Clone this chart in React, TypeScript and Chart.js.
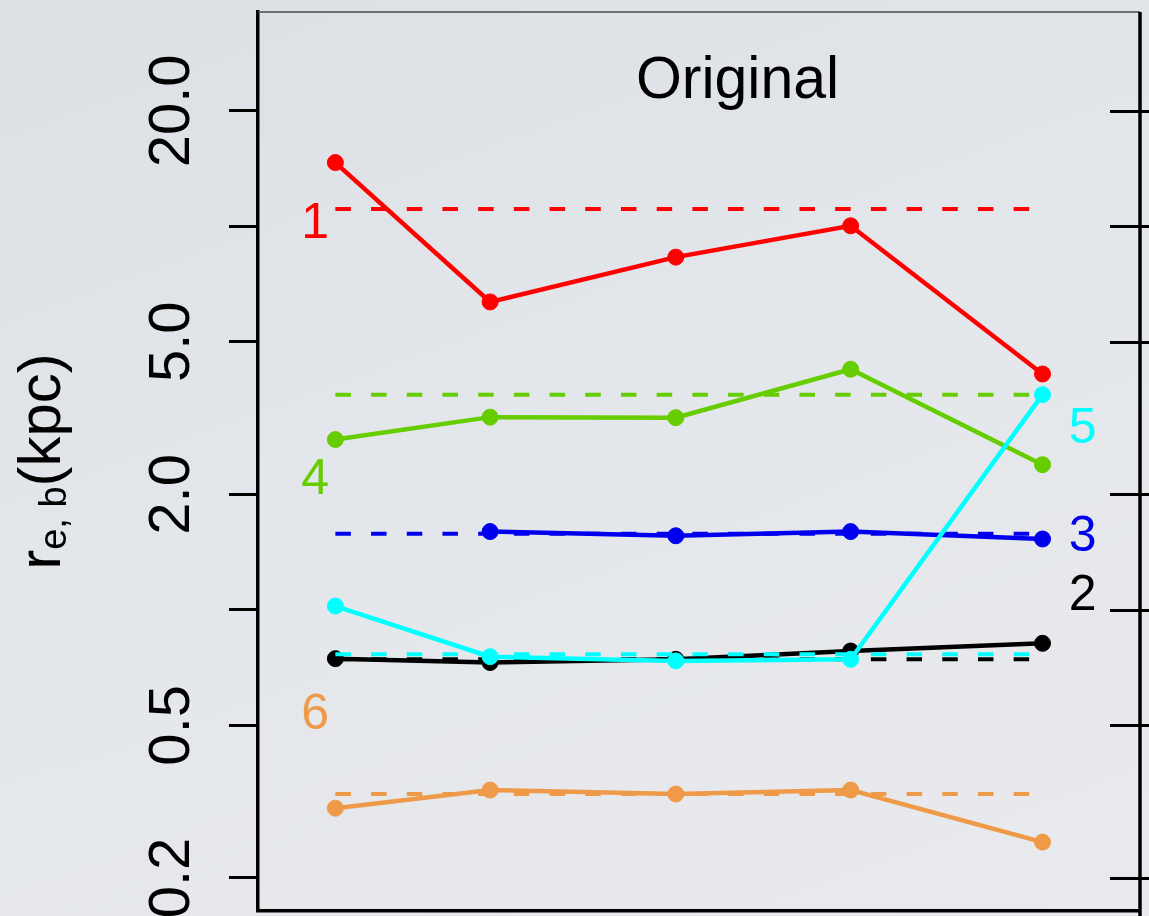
import React, { useEffect, useRef } from 'react';
import { Chart, registerables } from 'chart.js';

Chart.register(...registerables);

// Positions of the five fits along the horizontal axis
const modelX = [0.5, 1.5, 2.7, 3.83, 5.07];

// Measured bulge effective radius r_e,b (kpc) for each galaxy
const seriesNames = ['1', '2', '3', '4', '5', '6'];
const seriesColors = ['#ff0000', '#000000', '#0000ee', '#66cd00', '#00ffff', '#ee9a49'];
const radius1 = [14.66, 6.35, 8.31, 10.03, 4.12];
const radius2 = [0.746, 0.729, 0.743, 0.781, 0.818];
const radius3 = [null, 1.6, 1.56, 1.6, 1.53];
const radius4 = [2.78, 3.18, 3.17, 4.24, 2.39];
const radius5 = [1.023, 0.755, 0.736, 0.743, 3.64];
const radius6 = [0.304, 0.339, 0.331, 0.339, 0.248];
const seriesValues = [radius1, radius2, radius3, radius4, radius5, radius6];

// Reference (input) radius of each galaxy, drawn dashed
const trueRadius = [11.1, 0.743, 1.58, 3.64, 0.766, 0.331];

// Log axis ticks; R drops the labels that would overlap
const yTickValues = [0.2, 0.5, 1, 2, 5, 10, 20];
const yTickLabels = ['0.2', '0.5', '', '2.0', '5.0', '', '20.0'];
const yMin = 0.164;
const yMax = 36.2;
const xMin = 0;
const xMax = 5.7;

// Where each galaxy number is written (data units, text baseline)
const tagX = [0.37, 5.33, 5.33, 0.37, 5.33, 0.37];
const tagY = [9.34, 0.997, 1.424, 2.0, 2.72, 0.49];

const FONT = '"Liberation Sans", Arial, Helvetica, sans-serif';

const panelDecorations = {
  id: 'panelDecorations',
  afterDraw(chart: any) {
    const { ctx, chartArea: a, scales } = chart;
    const ys = scales.y;
    const xs = scales.x;
    ctx.save();

    // thin top frame
    ctx.strokeStyle = '#4a4a4a';
    ctx.lineWidth = 1.5;
    ctx.beginPath();
    ctx.moveTo(a.left, a.top);
    ctx.lineTo(a.right, a.top);
    ctx.stroke();

    // right frame with crossing ticks
    ctx.strokeStyle = '#000';
    ctx.lineWidth = 3.5;
    ctx.beginPath();
    ctx.moveTo(a.right, a.top);
    ctx.lineTo(a.right, chart.height);
    ctx.stroke();
    ctx.lineWidth = 3;
    ctx.beginPath();
    for (const v of yTickValues) {
      const py = Math.round(ys.getPixelForValue(v)) + 0.5;
      ctx.moveTo(a.right - 30, py);
      ctx.lineTo(a.right + 12, py);
    }
    ctx.stroke();

    // panel title
    ctx.fillStyle = '#000';
    ctx.font = `59px ${FONT}`;
    ctx.textAlign = 'center';
    ctx.textBaseline = 'alphabetic';
    ctx.fillText('Original', a.left + (a.right - a.left) * 0.5437, 98);

    // y-axis title r_{e, b}(kpc), rotated
    ctx.save();
    ctx.translate(60, (a.top + a.bottom) / 2);
    ctx.rotate(-Math.PI / 2);
    ctx.textAlign = 'left';
    const mainFont = `60px ${FONT}`;
    const subFont = `38px ${FONT}`;
    ctx.font = mainFont;
    const wr = ctx.measureText('r').width;
    const wk = ctx.measureText('(kpc)').width;
    ctx.font = subFont;
    const ws = ctx.measureText('e, b').width;
    let cx = -(wr + ws + wk) / 2;
    ctx.font = mainFont;
    ctx.fillText('r', cx, 0);
    cx += wr;
    ctx.font = subFont;
    ctx.fillText('e, b', cx, 6);
    cx += ws;
    ctx.font = mainFont;
    ctx.fillText('(kpc)', cx, 0);
    ctx.restore();

    // galaxy numbers
    ctx.font = `50px ${FONT}`;
    ctx.textAlign = 'center';
    ctx.textBaseline = 'alphabetic';
    seriesNames.forEach((name, i) => {
      ctx.fillStyle = seriesColors[i];
      ctx.fillText(name, xs.getPixelForValue(tagX[i]), ys.getPixelForValue(tagY[i]));
    });

    ctx.restore();
  },
};

export default function App() {
  const canvasRef = useRef<HTMLCanvasElement | null>(null);

  useEffect(() => {
    const canvas = canvasRef.current;
    if (!canvas) return;

    const datasets: any[] = [];
    seriesValues.forEach((vals, i) => {
      datasets.push({
        label: `ref ${seriesNames[i]}`,
        data: [
          { x: modelX[0], y: trueRadius[i] },
          { x: modelX[modelX.length - 1], y: trueRadius[i] },
        ],
        borderColor: seriesColors[i],
        borderWidth: 4,
        borderDash: [15.5, 20.2],
        borderCapStyle: 'butt',
        pointRadius: 0,
        fill: false,
        order: 100 - 2 * i,
      });
      datasets.push({
        label: seriesNames[i],
        data: modelX.map((x, j) => ({ x, y: vals[j] })),
        borderColor: seriesColors[i],
        backgroundColor: seriesColors[i],
        borderWidth: 4.5,
        pointRadius: 8,
        pointBorderWidth: 1,
        pointBorderColor: seriesColors[i],
        pointBackgroundColor: seriesColors[i],
        spanGaps: false,
        fill: false,
        order: 99 - 2 * i,
      });
    });

    const chart = new Chart(canvas, {
      type: 'line',
      data: { datasets },
      options: {
        animation: false,
        responsive: false,
        maintainAspectRatio: false,
        layout: { padding: { left: 0, top: 12, right: 9, bottom: 0 } },
        plugins: {
          legend: { display: false },
          tooltip: { enabled: false },
          title: { display: false },
        },
        scales: {
          x: {
            type: 'linear',
            min: xMin,
            max: xMax,
            ticks: { display: false, padding: 0 },
            grid: { display: false, drawTicks: false, tickLength: 0 },
            border: { display: true, color: '#000', width: 3.5 },
            afterFit: (s: any) => {
              s.height = 4;
              s.paddingLeft = 0;
              s.paddingRight = 0;
            },
          },
          y: {
            type: 'logarithmic',
            min: yMin,
            max: yMax,
            afterBuildTicks: (s: any) => {
              s.ticks = yTickValues.map((v) => ({ value: v }));
            },
            afterFit: (s: any) => {
              s.width = 258;
              s.paddingTop = 0;
              s.paddingBottom = 0;
            },
            ticks: {
              autoSkip: false,
              minRotation: 90,
              maxRotation: 90,
              crossAlign: 'center',
              padding: 0,
              color: '#000',
              font: { family: FONT, size: 58 },
              callback: (v: any) => {
                const idx = yTickValues.indexOf(Number(v));
                return idx >= 0 ? yTickLabels[idx] : '';
              },
            },
            grid: {
              drawOnChartArea: false,
              drawTicks: true,
              tickLength: 29,
              tickWidth: 3,
              tickColor: '#000',
              color: '#000',
            },
            border: { display: true, color: '#000', width: 3.5 },
          },
        },
      } as any,
      plugins: [panelDecorations],
    });

    return () => chart.destroy();
  }, []);

  // The canvas runs a few pixels past the bottom edge, where the frame is cut off
  return (
    <div
      style={{
        position: 'fixed',
        left: 0,
        top: 0,
        width: 1149,
        height: 916,
        overflow: 'hidden',
        background: 'linear-gradient(160deg, #dcdfe3 0%, #e3e6ea 45%, #e9eaee 100%)',
      }}
    >
      <canvas ref={canvasRef} width={1149} height={920} style={{ display: 'block' }} />
    </div>
  );
}
